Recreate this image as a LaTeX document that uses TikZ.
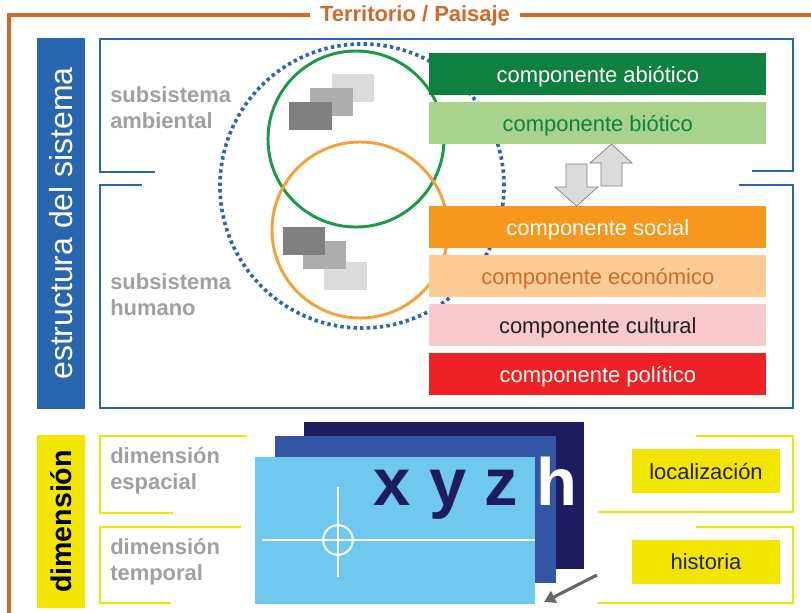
\documentclass[tikz,border=0pt]{standalone}
\usepackage{fontspec}
\setmainfont{Liberation Sans}
\usetikzlibrary{arrows.meta,positioning}

\definecolor{terra}{HTML}{D2692A}
\definecolor{estblue}{HTML}{2966B0}
\definecolor{dimyel}{HTML}{F2E500}
\definecolor{subgray}{HTML}{A0A0A3}
\definecolor{abio}{HTML}{0F8040}
\definecolor{bio}{HTML}{A8D38D}
\definecolor{soc}{HTML}{F7971E}
\definecolor{eco}{HTML}{FDCB94}
\definecolor{ecotext}{HTML}{D06B28}
\definecolor{cult}{HTML}{F9CACD}
\definecolor{pol}{HTML}{EE2224}
\definecolor{darktext}{HTML}{231F20}
\definecolor{circgreen}{HTML}{1A9A48}
\definecolor{circorange}{HTML}{F7A03A}
\definecolor{capanavy}{HTML}{1E1C5E}
\definecolor{capamid}{HTML}{3454A4}
\definecolor{capasky}{HTML}{6EC8EF}

\begin{document}
\begin{tikzpicture}[x=0.025cm, y=-0.025cm,
  every node/.style={font=\fontsize{15.6}{18.5}\selectfont, inner sep=0pt},
  comp/.style={anchor=north west, minimum width=8.425cm, minimum height=1.05cm,
    text height=11.4pt, text depth=0pt},
  subtext/.style={anchor=north west, align=left, text=subgray, font=\fontsize{15.6}{18.5}\selectfont\bfseries},
  sidebar/.style={rotate=90, minimum height=1.2cm},
  tag/.style={fill=dimyel, text=darktext, minimum width=3.7cm, minimum height=1.1cm,
    text height=11.4pt, text depth=0pt},
  bracket/.style={estblue, line width=1.9pt},
  ybracket/.style={dimyel, line width=2.1pt},
  blockarr/.style={fill=black!14, draw=black!50, line width=0.5pt}]

\useasboundingbox (0,0) rectangle (811,613);

\draw [terra, line width=2.2pt] (9,613) -- (9,15) -- (811,15);
\node [anchor=base, fill=white, inner xsep=7pt, inner ysep=2pt, text=terra,
  font=\fontsize{15.6}{18.5}\selectfont\bfseries] (titulo) at (415,21) {Territorio / Paisaje};

\draw [bracket] (155,172) -- (100,172) -- (100,39) -- (793,39) -- (793,171) -- (752,171);
\draw [bracket] (142,185) -- (100,185) -- (100,408) -- (793,408) -- (793,185) -- (739,185);

\draw [estblue, line width=2.6pt, dash pattern=on 2.4pt off 2.3pt] (362,186) circle [radius=3.55cm];
\draw [circgreen, line width=2.1pt] (356,139) circle [radius=2.2cm];
\draw [circorange, line width=2.1pt] (360,230) circle [radius=2.2cm];

\fill [black!14] (332,74) rectangle (374,102);
\fill [black!32] (310,88) rectangle (353,116);
\fill [black!50] (289,102) rectangle (332,130);
\fill [black!14] (324,262) rectangle (367,290);
\fill [black!32] (303,241) rectangle (346,269);
\fill [black!50] (283,227) rectangle (325,255);

\node [subtext] (subamb) at (110,86) {subsistema\\ambiental};
\node [subtext] (subhum) at (110,273) {subsistema\\humano};

\node [comp, fill=abio, text=white] (abiotico) at (429,53) {componente abiótico};
\node [comp, fill=bio, text=abio] (biotico) at (429,102) {componente biótico};
\node [comp, fill=soc, text=white] (social) at (429,206) {componente social};
\node [comp, fill=eco, text=ecotext] (economico) at (429,255) {componente económico};
\node [comp, fill=cult, text=darktext] (cultural) at (429,304) {componente cultural};
\node [comp, fill=pol, text=white] (politico) at (429,353) {componente político};

\draw [blockarr] (566,164) -- (587,164) -- (587,187) -- (598,187) -- (576.5,206) -- (555,187) -- (566,187) -- cycle;
\draw [blockarr] (601,186) -- (622,186) -- (622,163) -- (632,163) -- (611.5,144) -- (590,163) -- (601,163) -- cycle;

\node [sidebar, fill=estblue, text=white, minimum width=9.275cm,
  font=\fontsize{22.7}{26}\selectfont] (estr) at (61,223.5) {estructura del sistema};
\node [sidebar, fill=dimyel, text=black, minimum width=4.325cm,
  font=\fontsize{20.3}{24}\selectfont\bfseries] (dim) at (61,521.5) {dimensión};

\draw [ybracket] (173,513) -- (100,513) -- (100,436) -- (247,436);
\draw [ybracket] (171,603) -- (100,603) -- (100,527) -- (241,527);
\draw [ybracket] (696,436) -- (793,436) -- (793,512) -- (598,512);
\draw [ybracket] (696,527) -- (793,527) -- (793,603) -- (598,603);

\node [subtext] (dimesp) at (110,447) {dimensión\\espacial};
\node [subtext] (dimtem) at (110,538) {dimensión\\temporal};

\fill [capanavy] (304,422) rectangle (584,569);
\fill [capamid] (275,436) rectangle (556,583);
\node [fill=capasky, anchor=north west, minimum width=7cm, minimum height=3.675cm] (plano) at (255,457) {};
\node [anchor=base west, text=capanavy, font=\fontsize{47.6}{50}\selectfont\bfseries] (xyzh) at (373,505) {x y z \textcolor{white}{h}};

\draw [white, line width=1.4pt] (262,540) -- (535,540);
\draw [white, line width=1.4pt] (338,487) -- (338,577);
\draw [white, line width=1.4pt] (338,540) circle [radius=0.37cm];

\coordinate (ptrstart) at (597,575);
\coordinate (ptrtip) at (544,602);
\draw [-{Triangle[length=8pt,width=9pt]}, black!60, line width=2.2pt] (ptrstart) -- (ptrtip);

\node [tag] (local) at (706,471) {localización};
\node [tag] (hist) at (706,561.5) {historia};
\end{tikzpicture}
\end{document}
